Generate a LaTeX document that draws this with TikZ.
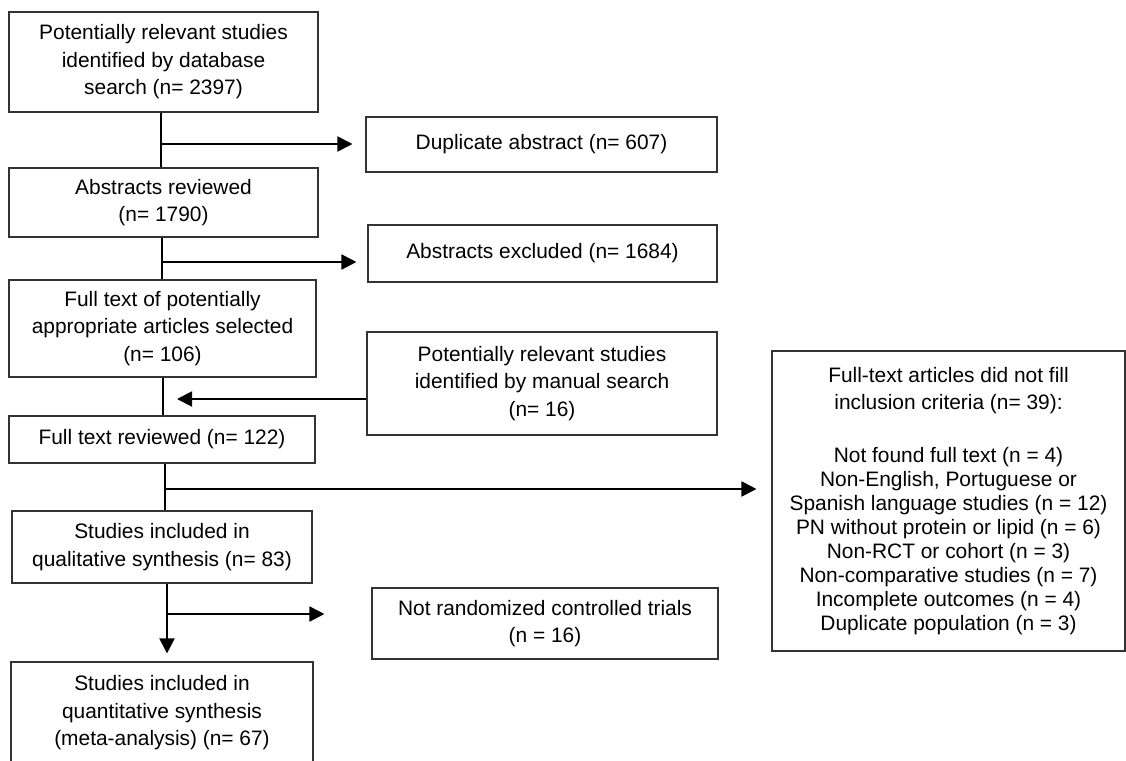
\documentclass[tikz,border=0pt]{standalone}
\usepackage{fontspec}
\setmainfont{Liberation Sans}
\usetikzlibrary{arrows.meta,calc}
\begin{document}
\begin{tikzpicture}[x=1pt,y=-1pt,
  box/.style={draw=black!80,line width=1.1pt,align=center,inner sep=0pt,font=\fontsize{20.9}{27.5}\selectfont},
  conn/.style={line width=1.9pt},
  arr/.style={conn,-{Triangle[length=15pt,width=15pt]}}]
\useasboundingbox (0,0) rectangle (1126,760);
\node[box,minimum width=309pt,minimum height=100pt] (b1) at (163.5,62) {Potentially relevant studies\\identified by database\\search (n= 2397)};
\node[box,minimum width=351pt,minimum height=55pt] (b2) at (541.5,144.5) {Duplicate abstract (n= 607)};
\node[box,minimum width=309pt,minimum height=69pt] (b3) at (163.5,202.5) {Abstracts reviewed\\(n= 1790)};
\node[box,minimum width=349pt,minimum height=57pt] (b4) at (542.5,253.5) {Abstracts excluded (n= 1684)};
\node[box,minimum width=307pt,minimum height=97pt] (b5) at (162.5,328.5) {Full text of potentially\\appropriate articles selected\\(n= 106)};
\node[box,minimum width=350pt,minimum height=103pt] (b6) at (542,383.5) {Potentially relevant studies\\identified by manual search\\(n= 16)};
\node[box,minimum width=306pt,minimum height=47pt] (b7) at (162,439.5) {Full text reviewed (n= 122)};
\node[box,minimum width=353pt,minimum height=300pt,font=\fontsize{20.9}{24}\selectfont] (b8) at (948.5,501) {Full-text articles did not fill\\[2.7pt]inclusion criteria (n= 39):\\[29.3pt]Not found full text (n = 4)\\Non-English, Portuguese or\\Spanish language studies (n = 12)\\PN without protein or lipid (n = 6)\\Non-RCT or cohort (n = 3)\\Non-comparative studies (n = 7)\\Incomplete outcomes (n = 4)\\Duplicate population (n = 3)};
\node[box,minimum width=300pt,minimum height=72pt] (b9) at (162,547) {Studies included in\\qualitative synthesis (n= 83)};
\node[box,minimum width=346pt,minimum height=71pt] (b10) at (545,623.5) {Not randomized controlled trials\\(n = 16)};
\node[box,minimum width=302pt,minimum height=102pt] (b11) at (162,713) {Studies included in\\quantitative synthesis\\(meta-analysis) (n= 67)};
\coordinate (j1) at (161,144);
\coordinate (j2) at (162,262);
\coordinate (j3) at (163,399);
\coordinate (j4) at (165,489);
\coordinate (j5) at (167,614);
\draw[conn] (b1.south -| j1) -- (b3.north -| j1);
\draw[arr] (j1) -- ($(j1 -| b2.west)+(-13,0)$);
\draw[conn] (b3.south -| j2) -- (b5.north -| j2);
\draw[arr] (j2) -- ($(j2 -| b4.west)+(-11,0)$);
\draw[conn] (b5.south -| j3) -- (b7.north -| j3);
\draw[arr] (j3 -| b6.west) -- ($(j3)+(14,0)$);
\draw[conn] (b7.south -| j4) -- (b9.north -| j4);
\draw[arr] (j4) -- ($(j4 -| b8.west)+(-15,0)$);
\draw[arr] (b9.south -| j5) -- ($(b11.north -| j5)+(0,-8)$);
\draw[arr] (j5) -- ($(j5 -| b10.west)+(-47,0)$);
\end{tikzpicture}
\end{document}
